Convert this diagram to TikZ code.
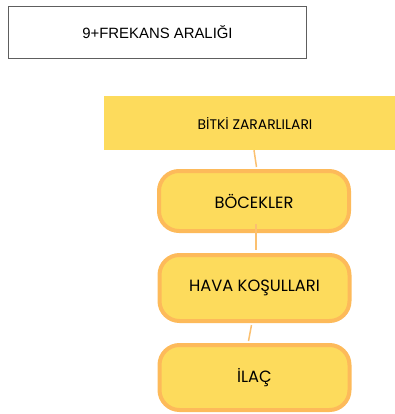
\documentclass[tikz,border=0pt]{standalone}
\usepackage{fontspec}
\setmainfont{Poppins}
\newfontfamily\arialf{Liberation Sans}
\definecolor{boxfill}{HTML}{FDDB5C}
\definecolor{boxedge}{HTML}{FDBA5A}
\definecolor{linkc}{HTML}{FBC070}
\definecolor{grayedge}{HTML}{5E5E5E}
\begin{document}
\begin{tikzpicture}[x=1pt,y=-1pt,
  topbox/.style={draw=grayedge,line width=1.6pt,fill=white,minimum width=298pt,minimum height=52pt,inner sep=0pt,font=\arialf\fontsize{14.9}{17}\selectfont},
  bandbox/.style={fill=boxfill,minimum width=291pt,minimum height=54pt,inner sep=0pt},
  pill/.style={draw=boxedge,line width=4pt,fill=boxfill,rounded corners=20pt,minimum width=190pt,inner sep=0pt,font=\fontsize{16.3}{18}\selectfont},
  link/.style={draw=linkc,line width=1.5pt}]
\useasboundingbox (0,0) rectangle (395,414);
\node[topbox] (top) at (157.5,32.5) {9+FREKANS ARALIĞI};
\node[bandbox] (band) at (249.5,123) {};
\node (bandtxt) at (255,123) {\fontsize{13.9}{16}\selectfont BİTKİ ZARARLILARI};
\node[pill,minimum height=60pt] (b1) at (254,201) {BÖCEKLER};
\node[pill,minimum height=66pt] (b2) at (254.5,288) {HAVA KOŞULLARI};
\node[pill,minimum height=65pt] (b3) at (254.5,377.5) {İLAÇ};
\draw[link] ([xshift=4.5pt]band.south) -- ([xshift=2.5pt,yshift=2pt]b1.north);
\draw[link] ([xshift=2pt,yshift=9pt]b1.south) -- ([xshift=1.5pt,yshift=3pt]b2.north);
\draw[link] ([xshift=-3pt,yshift=-2pt]b2.south) -- ([xshift=-6pt,yshift=2pt]b3.north);
\end{tikzpicture}
\end{document}
